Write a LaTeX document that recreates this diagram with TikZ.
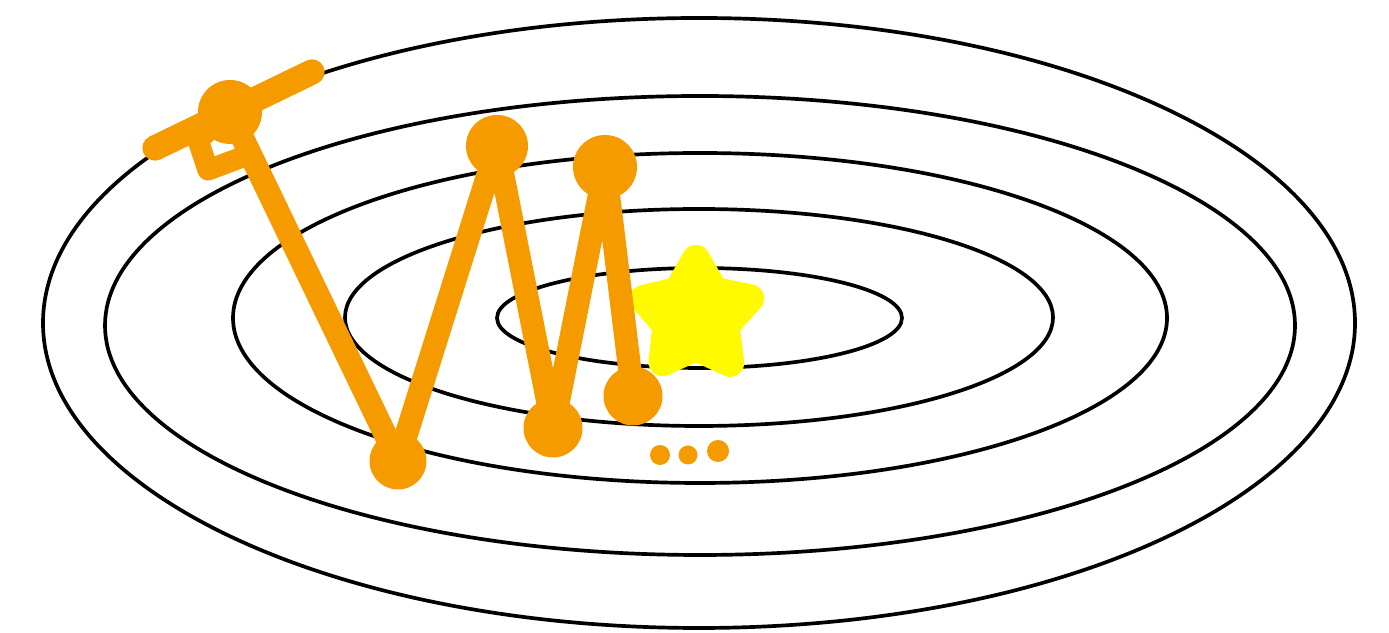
\documentclass[tikz,border=0pt]{standalone}
\usepackage{tikz}
\definecolor{myorange}{RGB}{245,155,0}
\definecolor{myyellow}{RGB}{255,250,0}

\tikzset{
  curva/.style={line width=1.05pt,black},
  trazo/.style={line width=6.6pt,myorange,line cap=round,line join=round},
  punto/.style={circle,fill=myorange,inner sep=0pt,minimum size=5.8mm},
  puntito/.style={circle,fill=myorange,inner sep=0pt,minimum size=2mm}
}

\begin{document}
\begin{tikzpicture}

\useasboundingbox (0,0) rectangle (13.89,6.33);

% curvas de nivel
\draw[curva] (6.99,3.10) ellipse (6.56 and 3.05);
\draw[curva] (7.00,3.075) ellipse (5.95 and 2.295);
\draw[curva] (7.00,3.15) ellipse (4.67 and 1.65);
\draw[curva] (6.99,3.155) ellipse (3.54 and 1.085);
\draw[curva] (6.995,3.15) ellipse (2.025 and 0.50);

% minimo
\begin{scope}[shift={(6.96,3.17)}]
\filldraw[myyellow,line width=8pt,line join=round]
  (90:0.57) -- (126:0.31) -- (162:0.55) -- (198:0.31) -- (234:0.57)
  -- (270:0.31) -- (306:0.58) -- (342:0.31) -- (18:0.57) -- (54:0.31) -- cycle;
\end{scope}

% pasos
\node[punto,minimum size=6.4mm] (p1) at (2.30,5.21) {};
\node[punto,minimum size=5.7mm] (p2) at (3.98,1.72) {};
\node[punto,minimum size=6.2mm] (p3) at (4.97,4.87) {};
\node[punto,minimum size=5.9mm] (p4) at (5.53,2.05) {};
\node[punto,minimum size=6.4mm] (p5) at (6.05,4.66) {};
\node[punto,minimum size=5.9mm] (p6) at (6.33,2.37) {};

\draw[trazo] (p1.center) -- (p2.center) -- (p3.center) -- (p4.center)
  -- (p5.center) -- (p6.center);

% palo y gancho
\coordinate (a) at (1.55,4.85);
\coordinate (b) at (3.12,5.61);
\draw[trazo,line width=7.2pt] (a) -- (b);
\coordinate (g1) at (1.98,4.93);
\coordinate (g2) at (2.08,4.63);
\coordinate (g3) at (2.40,4.75);
\draw[trazo,line width=6pt] (p1.center) -- (g1) -- (g2) -- (g3);

% puntos suspensivos
\node[puntito] (d1) at (6.60,1.78) {};
\node[puntito,minimum size=1.9mm] (d2) at (6.88,1.78) {};
\node[puntito,minimum size=2.2mm] (d3) at (7.18,1.82) {};

\end{tikzpicture}
\end{document}
